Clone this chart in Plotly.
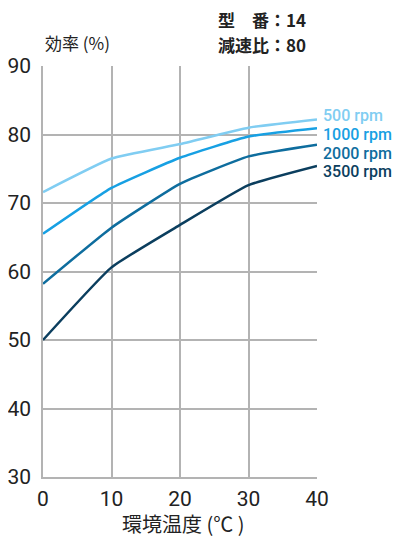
import plotly.graph_objects as go

temps = [0, 10, 20, 30, 40]
series_names = ["500 rpm", "1000 rpm", "2000 rpm", "3500 rpm"]
eff_500 = [71.6, 76.5, 78.6, 81.0, 82.2]
eff_1000 = [65.5, 72.2, 76.6, 79.7, 80.9]
eff_2000 = [58.2, 66.4, 72.8, 76.8, 78.5]
eff_3500 = [50.0, 60.6, 66.8, 72.6, 75.4]
colors = ["#80cdf2", "#17a0e3", "#0e6d9e", "#0b3e5e"]
y_ticks = [30, 40, 50, 60, 70, 80, 90]
x_ticks = [0, 10, 20, 30, 40]

all_series = [eff_500, eff_1000, eff_2000, eff_3500]

OFF = 8  # page body margin
W, H = 403, 540
L, R, T, B = 43 - OFF, 317 - OFF, 66 - OFF, 477 - OFF
PW, PH = R - L, B - T


def py2paper(py):
    return 1 + (T - (py - OFF)) / PH


def px2paper(px):
    return ((px - OFF) - L) / PW


fig = go.Figure()
for name, vals, c in zip(series_names, all_series, colors):
    fig.add_trace(go.Scatter(x=temps, y=vals, mode="lines", name=name,
                             line=dict(color=c, width=2.5, shape="spline", smoothing=0.4),
                             showlegend=False, cliponaxis=False))

num_font = "Roboto, 'Noto Sans CJK JP', sans-serif"
cjk_font = "'Noto Sans CJK JP', Roboto, sans-serif"

label_y = [116, 134, 153, 171]
for name, c, py in zip(series_names, colors, label_y):
    fig.add_annotation(x=px2paper(321), xref="paper", y=py2paper(py), yref="paper",
                       text=name, showarrow=False, xanchor="left", yanchor="middle",
                       font=dict(family=num_font, size=16, color=c, weight=500))

fig.add_annotation(x=px2paper(43), xref="paper", y=py2paper(42), yref="paper",
                   text="効率 (%)", showarrow=False, xanchor="left", yanchor="middle",
                   font=dict(family=cjk_font, size=17, color="#222222"))

fig.add_annotation(x=px2paper(216), xref="paper", y=py2paper(19), yref="paper",
                   text="型　番：14", showarrow=False, xanchor="left", yanchor="middle",
                   font=dict(family=cjk_font, size=17, color="#222222", weight="bold"))
fig.add_annotation(x=px2paper(216), xref="paper", y=py2paper(44), yref="paper",
                   text="減速比：80", showarrow=False, xanchor="left", yanchor="middle",
                   font=dict(family=cjk_font, size=17, color="#222222", weight="bold"))

fig.add_annotation(x=px2paper(183), xref="paper", y=py2paper(523), yref="paper",
                   text="環境温度 (℃ )", showarrow=False, xanchor="center", yanchor="middle",
                   font=dict(family=cjk_font, size=20, color="#222222"))

fig.update_layout(
    width=W, height=H,
    margin=dict(l=L, r=W - R, t=T, b=H - B, autoexpand=False),
    paper_bgcolor="white", plot_bgcolor="white",
    font=dict(family=num_font, color="#222222"),
)
fig.update_xaxes(range=[0, 40], tickvals=x_ticks, showgrid=True, gridcolor="#b3b3b3", gridwidth=1.5,
                 showline=True, linecolor="#b3b3b3", linewidth=1.5, zeroline=False, automargin=False,
                 tickfont=dict(size=21, family=num_font, color="#222222"), ticks="", ticklabelstandoff=2)
fig.update_yaxes(range=[30, 90], tickvals=y_ticks, showgrid=True, gridcolor="#b3b3b3", gridwidth=1.5,
                 showline=True, linecolor="#b3b3b3", linewidth=1.5, zeroline=False, automargin=False,
                 tickfont=dict(size=21, family=num_font, color="#222222"), ticks="", ticklabelstandoff=6)

fig.write_html("out.html")
